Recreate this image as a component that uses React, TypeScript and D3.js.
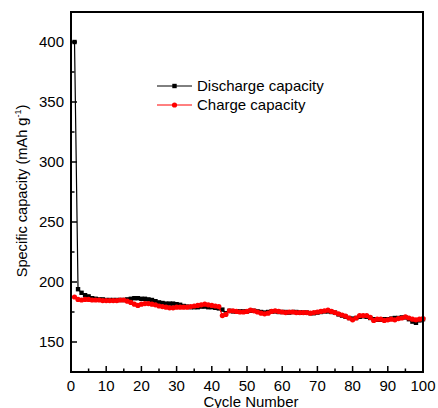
import * as d3 from "d3";

const cycles = d3.range(1, 101);

const discharge = [
  400, 194, 191, 189, 188, 186.5, 186, 185.5, 185.5, 185,
  185, 185, 185, 185, 185, 185.5, 186, 186.5, 186.5, 186,
  186, 185.5, 185, 184, 183, 182.5, 182, 182, 182, 181.5,
  181, 180, 179.5, 179, 179, 179, 179.5, 179.5, 179, 179,
  178.5, 178, 177, 174, 176, 175.5, 175.5, 175.5, 175.5, 175.5,
  176, 176, 175.5, 175, 174.5, 175, 175.5, 175.5, 175, 175,
  175, 174.5, 175, 175, 174.5, 174.5, 174.5, 174, 174, 174.5,
  175, 175.5, 175.5, 175, 174.5, 173, 172, 171, 170, 169.5,
  170, 171, 171.5, 171, 170, 169, 168.5, 168.5, 169, 169,
  169.5, 170, 170, 170.5, 170.5, 169, 167, 166, 168, 169,
];

const charge = [
  187.5, 185.5, 185, 185.5, 185.5, 185, 185, 185, 184.5, 184.5,
  184.5, 184.5, 184.5, 185, 185, 184, 183, 181.5, 180.5, 181.5,
  182, 182, 181.5, 181, 180, 179.5, 179, 178.5, 178.5, 179,
  179, 179, 179, 179.5, 180, 180.5, 181, 181.5, 181, 180.5,
  180, 179.5, 172, 173, 176, 176, 175.5, 175, 175, 175.5,
  176.5, 176, 175, 174, 173.5, 174, 175.5, 176, 175.5, 175,
  174.5, 175, 175, 174.5, 174.5, 174.5, 174.5, 174, 174.5, 175,
  175.5, 176, 176.5, 175.5, 174.5, 173.5, 172.5, 171.5, 170, 168.5,
  170, 172, 172, 172, 170.5, 168, 169, 169, 168, 168.5,
  169, 168.5, 169.5, 170, 171, 170, 169, 168.5, 169, 169.5,
];

const xTicks = [0, 10, 20, 30, 40, 50, 60, 70, 80, 90, 100];
const yTicks = [150, 200, 250, 300, 350, 400];

const W = 438;
const H = 408;
const left = 71;
const right = 423;
const top = 12;
const bottom = 372;
const font = "'Liberation Sans', Arial, sans-serif";

export default function App() {
  const x = d3.scaleLinear().domain([0, 100]).range([left, right]);
  const y = d3.scaleLinear().domain([125, 425]).range([bottom, top]);

  const line = d3
    .line<number>()
    .x((_, i) => x(cycles[i]))
    .y((d) => y(d));

  const xMinor = d3.range(5, 100, 10);
  const yMinor = d3.range(175, 425, 50);

  return (
    <svg
      width={W}
      height={H}
      style={{ position: "absolute", left: 0, top: 0, background: "#fff" }}
      fontFamily={font}
    >
      {/* series */}
      <path d={line(discharge) || ""} fill="none" stroke="#000" strokeWidth={1.2} />
      {discharge.map((d, i) => (
        <rect key={"d" + i} x={x(cycles[i]) - 2.2} y={y(d) - 2.2} width={4.4} height={4.4} fill="#000" />
      ))}
      <path d={line(charge) || ""} fill="none" stroke="#ff0000" strokeWidth={1.2} />
      {charge.map((d, i) => (
        <circle key={"c" + i} cx={x(cycles[i])} cy={y(d)} r={2.6} fill="#ff0000" />
      ))}

      {/* frame */}
      <rect x={left} y={top} width={right - left} height={bottom - top} fill="none" stroke="#000" strokeWidth={2} />

      {/* x ticks */}
      {xTicks.map((t) => (
        <g key={"xt" + t}>
          <line x1={x(t)} x2={x(t)} y1={bottom} y2={bottom - 6} stroke="#000" strokeWidth={1.5} />
          <text x={x(t)} y={391} fontSize={15} textAnchor="middle">{t}</text>
        </g>
      ))}
      {xMinor.map((t) => (
        <line key={"xm" + t} x1={x(t)} x2={x(t)} y1={bottom} y2={bottom - 3.5} stroke="#000" strokeWidth={1.5} />
      ))}

      {/* y ticks */}
      {yTicks.map((t) => (
        <g key={"yt" + t}>
          <line x1={left} x2={left + 6} y1={y(t)} y2={y(t)} stroke="#000" strokeWidth={1.5} />
          <text x={64} y={y(t) + 5.3} fontSize={15} textAnchor="end">{t}</text>
        </g>
      ))}
      {yMinor.map((t) => (
        <line key={"ym" + t} x1={left} x2={left + 3.5} y1={y(t)} y2={y(t)} stroke="#000" strokeWidth={1.5} />
      ))}

      {/* axis titles */}
      <text x={251} y={407} fontSize={15} textAnchor="middle">Cycle Number</text>
      <text transform="translate(27,191) rotate(-90)" fontSize={14.6} textAnchor="middle">
        Specific capacity (mAh g<tspan fontSize={9} dy={-6}>-1</tspan><tspan dy={6}>)</tspan>
      </text>

      {/* legend */}
      <line x1={157} x2={192} y1={86} y2={86} stroke="#000" strokeWidth={1} />
      <rect x={172.3} y={83.8} width={4.4} height={4.4} fill="#000" />
      <text x={197} y={91} fontSize={15}>Discharge capacity</text>
      <line x1={157} x2={192} y1={105} y2={105} stroke="#ff0000" strokeWidth={1} />
      <circle cx={174.5} cy={105} r={2.6} fill="#ff0000" />
      <text x={197} y={110} fontSize={15}>Charge capacity</text>
    </svg>
  );
}
